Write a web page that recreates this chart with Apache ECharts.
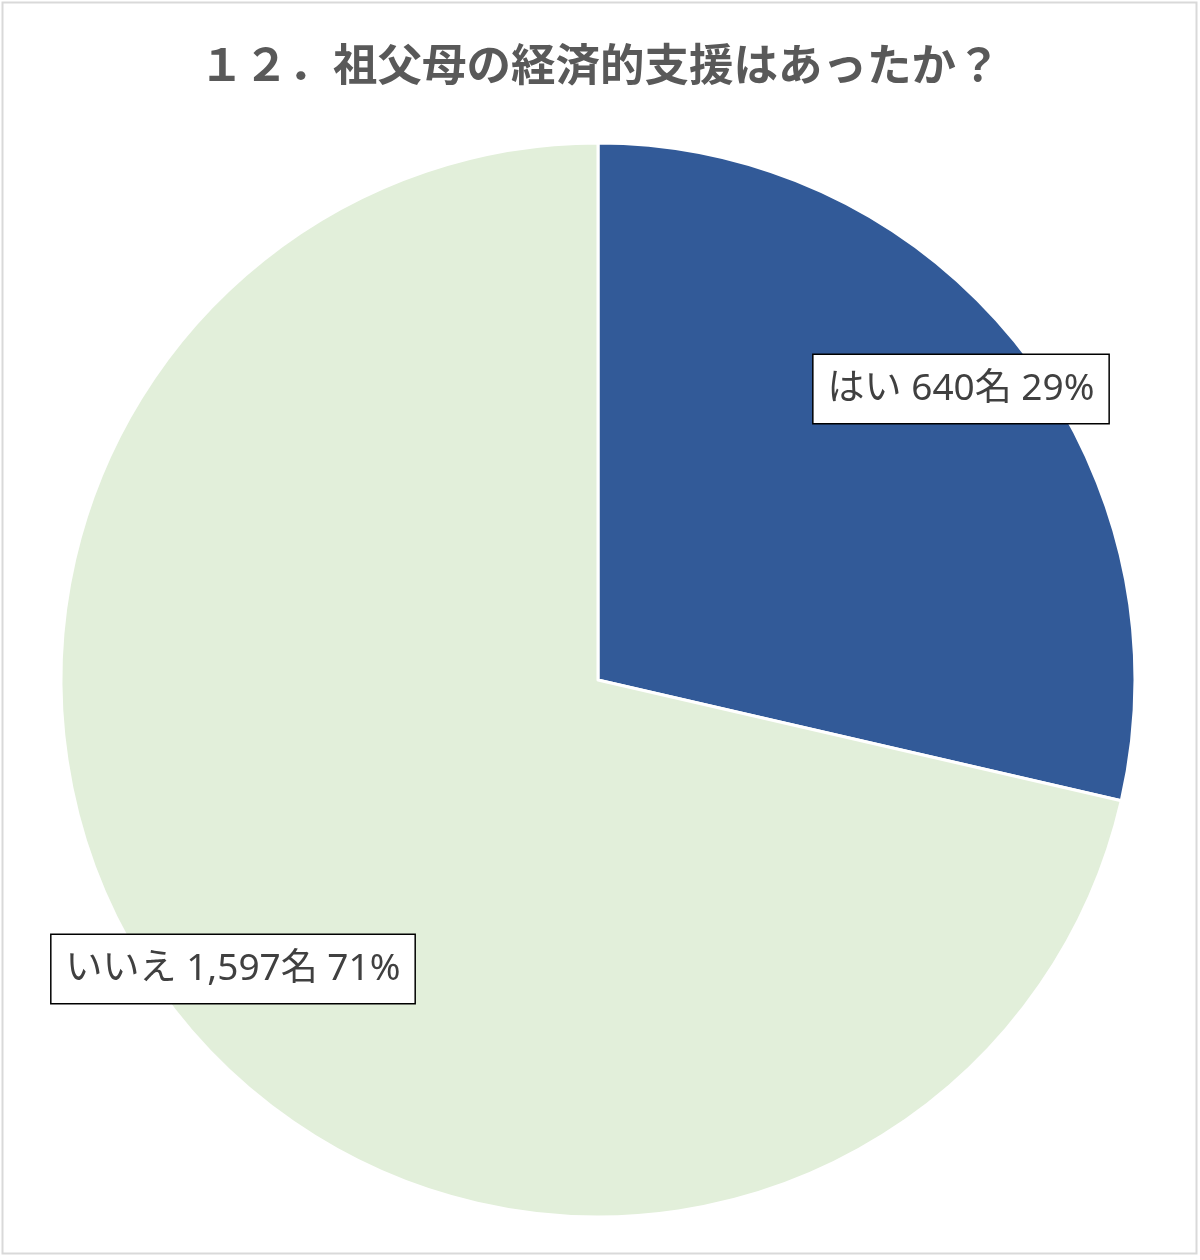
<!DOCTYPE html>
<html><head><meta charset="utf-8">
<script src="https://cdn.jsdelivr.net/npm/echarts@6/dist/echarts.min.js"></script>
<style>html,body{margin:0;padding:0;background:#fff}#c{width:1200px;height:1260px}</style>
</head><body><div id="c"></div>
<script>
const titleText = '１２．祖父母の経済的支援はあったか？';
const categories = ['はい', 'いいえ'];
const counts = [640, 1597];
const countLabels = ['640', '1,597'];
const percents = ['29%', '71%'];
const colors = ['#325A98', '#E2EFDA'];
const labelCenters = [[961, 389], [233, 969]];

const chart = echarts.init(document.getElementById('c'));
chart.setOption({
  backgroundColor: '#fff',
  title: {
    text: titleText, left: 'center', top: 37,
    textStyle: {fontFamily: 'Noto Sans CJK JP', fontSize: 44.5, fontWeight: 'bold', color: '#595959'}
  },
  graphic: [{type: 'rect', shape: {x: 2.5, y: 2.5, width: 1194, height: 1251}, style: {fill: 'none', stroke: '#D9D9D9', lineWidth: 2}, silent: true}],
  series: [{
    type: 'pie', center: [598, 680], radius: [0, 537], startAngle: 90, clockwise: true,
    animation: false,
    itemStyle: {borderColor: '#fff', borderWidth: 3},
    data: categories.map((c, i) => ({name: c, value: counts[i], itemStyle: {color: colors[i]}})),
    label: {
      show: true, position: 'inside',
      formatter: p => `${p.name} ${countLabels[p.dataIndex]}名 ${percents[p.dataIndex]}`,
      fontFamily: '"Noto Sans", "Noto Sans CJK JP"', fontSize: 37, lineHeight: 40, color: '#404040',
      backgroundColor: '#fff', borderColor: '#000', borderWidth: 1.5,
      padding: [14, 14, 14, 14]
    },
    labelLine: {show: false},
    labelLayout: p => ({x: labelCenters[p.dataIndex][0], y: labelCenters[p.dataIndex][1], align: 'center', verticalAlign: 'middle'})
  }]
});
</script></body></html>
